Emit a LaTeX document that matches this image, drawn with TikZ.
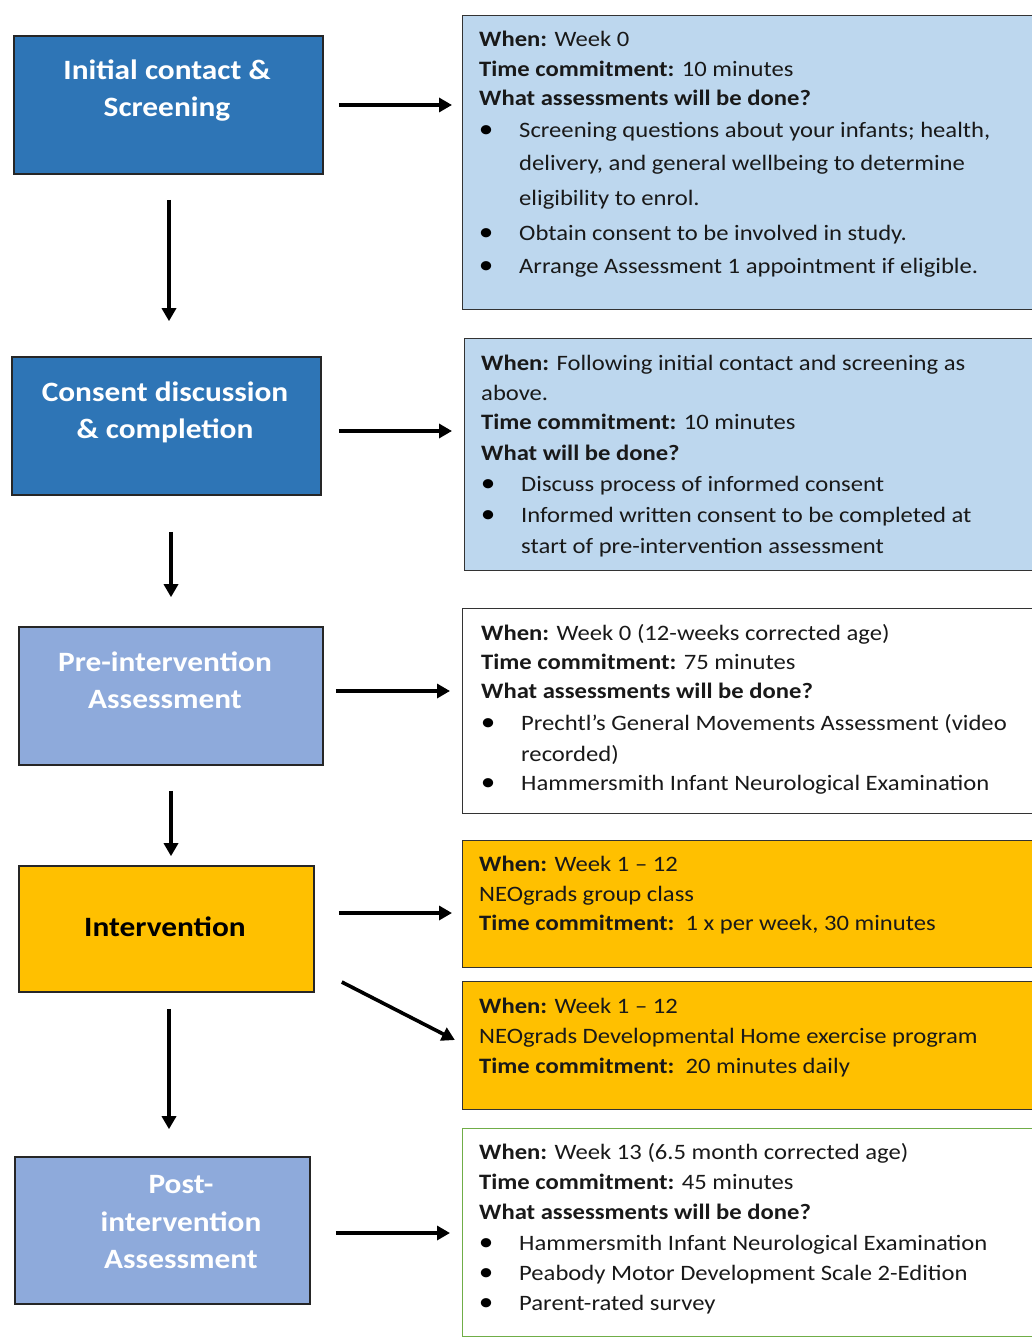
\documentclass[tikz,border=0pt]{standalone}
\usepackage{fontspec}
\setmainfont{Carlito}[FakeStretch=1.12]
\usetikzlibrary{arrows.meta}
\definecolor{dblue}{HTML}{2E75B6}
\definecolor{lblue}{HTML}{BDD7EE}
\definecolor{peri}{HTML}{8EAADB}
\definecolor{gold}{HTML}{FFC000}
\definecolor{grn}{HTML}{70AD47}
\tikzset{
  lbox/.style={draw=black!85, line width=1.6pt, inner sep=0pt},
  rbox/.style={draw=black!80, line width=1.3pt, inner sep=0pt, anchor=north west},
  ltxt/.style={font=\fontsize{28}{32}\selectfont\bfseries, text=white, inner sep=0pt, anchor=base},
  rtxt/.style={font=\fontsize{22}{25}\selectfont, text=black!90, inner sep=0pt, anchor=base west},
  bul/.style={font=\fontsize{26}{26}\selectfont, text=black, inner sep=0pt, anchor=base},
  arr/.style={line width=3.6pt, -{Triangle[length=13pt,width=14pt]}},
}
\newcommand{\RL}[4]{\node[rtxt] (#1) at (#2,-#3-7) {#4};}
\newcommand{\BL}[5]{\node[bul] (#1b) at (#2,-#4-7) {•};\node[rtxt] (#1) at (#3,-#4-7) {#5};}
\begin{document}
\begin{tikzpicture}[x=1pt,y=1pt]
\useasboundingbox (0,0) rectangle (1031,-1337);
\fill[white] (0,0) rectangle (1031,-1337);

% ---- left boxes
\node[lbox, fill=dblue, minimum width=309pt, minimum height=138pt] (A) at (168.5,-105) {};
\node[ltxt] (A1) at (167,-71-9) {Initial contact \&};
\node[ltxt] (A2) at (167,-108-9) {Screening};

\node[lbox, fill=dblue, minimum width=309pt, minimum height=138pt] (B) at (166.5,-426) {};
\node[ltxt] (B1) at (165,-392-9) {Consent discussion};
\node[ltxt] (B2) at (165,-429-9) {\& completion};

\node[lbox, fill=peri, minimum width=304pt, minimum height=138pt] (C) at (171,-696) {};
\node[ltxt] (C1) at (165,-662-9) {Pre-intervention};
\node[ltxt] (C2) at (165,-699-9) {Assessment};

\node[lbox, fill=gold, minimum width=295pt, minimum height=126pt] (D) at (166.5,-929) {};
\node[ltxt, text=black] (D1) at (165,-927-9) {Intervention};

\node[lbox, fill=peri, minimum width=295pt, minimum height=147pt] (E) at (162.5,-1230.5) {};
\node[ltxt] (E1) at (181,-1184-9) {Post-};
\node[ltxt] (E2) at (181,-1222-9) {intervention};
\node[ltxt] (E3) at (181,-1259-9) {Assessment};

% ---- right boxes
\node[rbox, fill=lblue, minimum width=572pt, minimum height=294pt] (R1) at (462,-15) {};
\node[rbox, fill=lblue, minimum width=570pt, minimum height=232pt] (R2) at (464,-338) {};
\node[rbox, fill=white, minimum width=572pt, minimum height=205pt] (R3) at (462,-608) {};
\node[rbox, fill=gold, minimum width=572pt, minimum height=127pt] (R4) at (462,-840) {};
\node[rbox, fill=gold, minimum width=572pt, minimum height=128pt] (R5) at (462,-981) {};
\node[rbox, draw=grn, fill=white, minimum width=572pt, minimum height=208pt] (R6) at (462,-1128) {};

% box 1 text
\RL{r1a}{479}{40}{\textbf{When:} Week 0}
\RL{r1b}{479}{70}{\textbf{Time commitment:} 10 minutes}
\RL{r1c}{479}{99}{\textbf{What assessments will be done?}}
\BL{r1d}{486}{519}{131}{Screening questions about your infants; health,}
\RL{r1e}{519}{164}{delivery, and general wellbeing to determine}
\RL{r1f}{519}{199}{eligibility to enrol.}
\BL{r1g}{486}{519}{234}{Obtain consent to be involved in study.}
\BL{r1h}{486}{519}{267}{Arrange Assessment 1 appointment if eligible.}

% box 2 text
\RL{r2a}{481}{363}{\textbf{When:} Following initial contact and screening as}
\RL{r2b}{481}{393}{above.}
\RL{r2c}{481}{422}{\textbf{Time commitment:} 10 minutes}
\RL{r2d}{481}{453}{\textbf{What will be done?}}
\BL{r2e}{488}{521}{484}{Discuss process of informed consent}
\BL{r2f}{488}{521}{515}{Informed written consent to be completed at}
\RL{r2g}{521}{546}{start of pre-intervention assessment}

% box 3 text
\RL{r3a}{481}{633}{\textbf{When:} Week 0 (12-weeks corrected age)}
\RL{r3b}{481}{662}{\textbf{Time commitment:} 75 minutes}
\RL{r3c}{481}{691}{\textbf{What assessments will be done?}}
\BL{r3d}{488}{521}{723}{Prechtl’s General Movements Assessment (video}
\RL{r3e}{521}{754}{recorded)}
\BL{r3f}{488}{521}{783}{Hammersmith Infant Neurological Examination}

% box 4 text
\RL{r4a}{479}{864}{\textbf{When:} Week 1 – 12}
\RL{r4b}{479}{894}{NEOgrads group class}
\RL{r4c}{479}{923}{\textbf{Time commitment:}\ \ 1 x per week, 30 minutes}

% box 5 text
\RL{r5a}{479}{1006}{\textbf{When:} Week 1 – 12}
\RL{r5b}{479}{1036}{NEOgrads Developmental Home exercise program}
\RL{r5c}{479}{1066}{\textbf{Time commitment:}\ \ 20 minutes daily}

% box 6 text
\RL{r6a}{479}{1152}{\textbf{When:} Week 13 (6.5 month corrected age)}
\RL{r6b}{479}{1182}{\textbf{Time commitment:} 45 minutes}
\RL{r6c}{479}{1212}{\textbf{What assessments will be done?}}
\BL{r6d}{486}{519}{1243}{Hammersmith Infant Neurological Examination}
\BL{r6e}{486}{519}{1273}{Peabody Motor Development Scale 2-Edition}
\BL{r6f}{486}{519}{1303}{Parent-rated survey}

% ---- arrows
\draw[arr, shorten <=15pt, shorten >=10pt] (A.east) -- (A.east -| R1.west);
\draw[arr, shorten <=17pt, shorten >=12pt] ([yshift=-5pt]B.east) -- ([yshift=-5pt]B.east -| R2.west);
\draw[arr, shorten <=12pt, shorten >=12pt] ([yshift=5pt]C.east) -- ([yshift=5pt]C.east -| R3.west);
\draw[arr, shorten <=24pt, shorten >=10pt] ([yshift=16pt]D.east) -- ([yshift=16pt]D.east -| R4.west);
\draw[arr, shorten >=8pt] ([xshift=27pt,yshift=-53pt]D.east) -- ([yshift=2pt]R5.west);
\draw[arr, shorten <=25pt, shorten >=35pt] ([xshift=0.5pt]A.south) -- ([xshift=0.5pt]A.south |- B.north);
\draw[arr, shorten <=36pt, shorten >=29pt] ([xshift=4.5pt]B.south) -- ([xshift=4.5pt]B.south |- C.north);
\draw[arr, shorten <=25pt, shorten >=9pt] (C.south) -- (C.south |- D.north);
\draw[arr, shorten <=16pt, shorten >=27pt] ([xshift=2.5pt]D.south) -- ([xshift=2.5pt]D.south |- E.north);
\draw[arr, shorten <=25pt, shorten >=12pt] ([yshift=-2.5pt]E.east) -- ([yshift=-2.5pt]E.east -| R6.west);
\end{tikzpicture}
\end{document}
